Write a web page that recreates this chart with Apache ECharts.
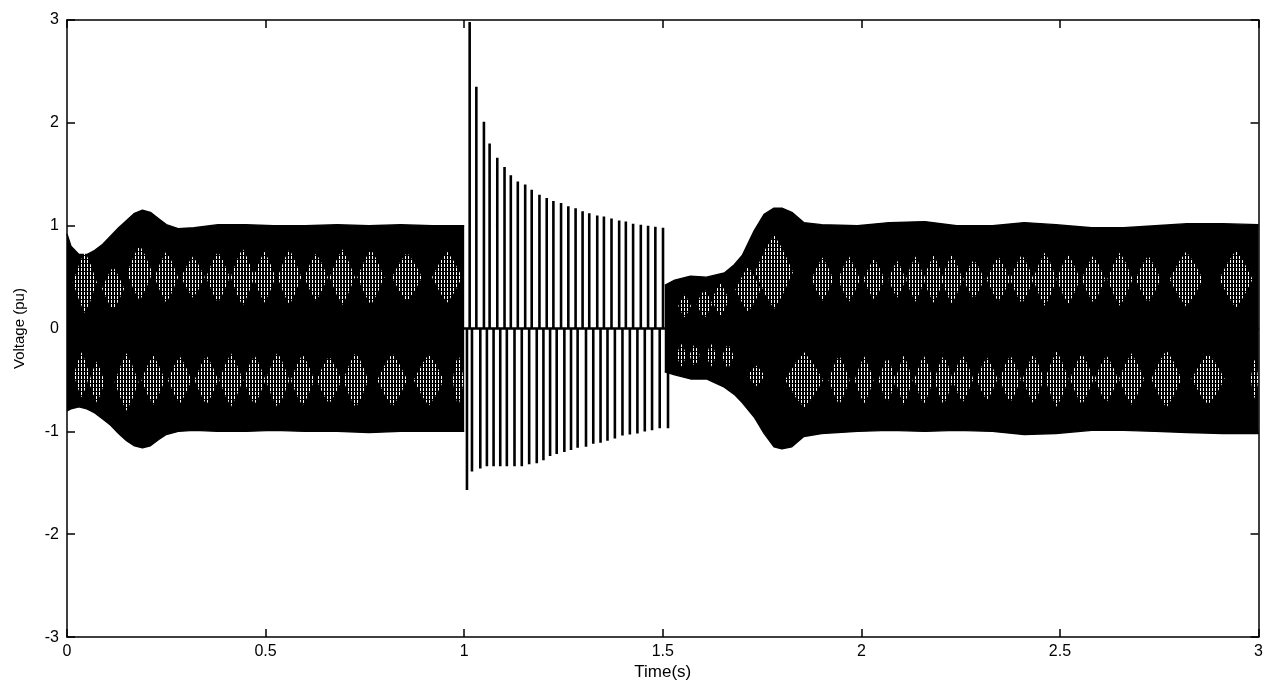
<!DOCTYPE html>
<html>
<head>
<meta charset="utf-8">
<title>Voltage (pu)</title>
<script src="https://cdn.jsdelivr.net/npm/echarts/dist/echarts.min.js"></script>
<style>
  html, body { margin: 0; padding: 0; background: #fff; }
  #chart { width: 1266px; height: 686px; }
</style>
</head>
<body>
<div id="chart"></div>
<script>
// ---- Axis tick labels ----
const xTickLabels = ['0', '0.5', '1', '1.5', '2', '2.5', '3'];
const yTickLabels = ['-3', '-2', '-1', '0', '1', '2', '3'];

// ---- Envelope of the oscillation before the fault (0 - 1 s) ----
const preTime  = [0, 0.01, 0.03, 0.05, 0.07, 0.09, 0.11, 0.13, 0.15, 0.17, 0.19, 0.21, 0.23, 0.25, 0.28, 0.32, 0.38, 0.45, 0.52, 0.60, 0.68, 0.76, 0.84, 0.92, 1.0];
const preUpper = [0.92, 0.80, 0.72, 0.72, 0.76, 0.82, 0.90, 0.98, 1.05, 1.12, 1.15, 1.13, 1.07, 1.01, 0.97, 0.98, 1.01, 1.01, 1.00, 1.00, 1.01, 1.00, 1.01, 1.00, 1.00];
const preLower = [-0.80, -0.78, -0.76, -0.78, -0.82, -0.88, -0.94, -1.02, -1.09, -1.14, -1.16, -1.14, -1.08, -1.03, -1.00, -0.99, -1.00, -1.00, -0.99, -1.00, -1.00, -1.01, -1.00, -1.00, -1.00];

// ---- Envelope after clearing (1.5 - 3 s) ----
const postTime  = [1.505, 1.53, 1.57, 1.61, 1.655, 1.68, 1.70, 1.73, 1.755, 1.78, 1.80, 1.825, 1.855, 1.90, 1.99, 2.07, 2.16, 2.24, 2.33, 2.41, 2.49, 2.58, 2.66, 2.74, 2.82, 2.91, 3.0];
const postUpper = [0.42, 0.47, 0.51, 0.50, 0.54, 0.62, 0.71, 0.95, 1.11, 1.17, 1.17, 1.13, 1.03, 1.01, 1.00, 1.03, 1.04, 1.00, 1.00, 1.03, 1.01, 0.98, 0.98, 1.00, 1.02, 1.02, 1.01];
const postLower = [-0.42, -0.45, -0.49, -0.49, -0.57, -0.64, -0.72, -0.86, -1.02, -1.15, -1.17, -1.15, -1.05, -1.02, -1.00, -0.99, -1.00, -0.99, -1.00, -1.03, -1.02, -0.99, -0.99, -1.00, -1.01, -1.02, -1.02];

// ---- Fault period (1 - 1.5 s): positive and negative spikes ----
const faultPeakTime = [1.0138, 1.0306, 1.0497, 1.0640, 1.0833, 1.1016, 1.1174, 1.1350, 1.1536, 1.1700, 1.1895, 1.2078, 1.2246, 1.2439, 1.2622, 1.2805, 1.2981, 1.3149, 1.3350, 1.3518, 1.3709, 1.3902, 1.4070, 1.4253, 1.4447, 1.4630, 1.4813, 1.5006];
const faultPeak     = [2.98, 2.35, 2.01, 1.80, 1.66, 1.57, 1.49, 1.43, 1.40, 1.35, 1.30, 1.27, 1.24, 1.22, 1.19, 1.17, 1.14, 1.12, 1.10, 1.09, 1.07, 1.05, 1.04, 1.02, 1.01, 1.00, 0.99, 0.98];
const faultTroughTime = [1.0070, 1.0196, 1.0406, 1.0572, 1.0740, 1.0908, 1.1074, 1.1267, 1.1450, 1.1636, 1.1827, 1.1995, 1.2163, 1.2329, 1.2522, 1.2690, 1.2856, 1.3067, 1.3250, 1.3433, 1.3608, 1.3794, 1.3985, 1.4171, 1.4361, 1.4547, 1.4730, 1.4923, 1.5132];
const faultTrough     = [-1.57, -1.39, -1.36, -1.34, -1.34, -1.34, -1.34, -1.34, -1.34, -1.32, -1.31, -1.28, -1.24, -1.22, -1.20, -1.18, -1.16, -1.15, -1.12, -1.11, -1.09, -1.07, -1.04, -1.03, -1.02, -1.00, -0.99, -0.97, -0.97];

// ---- Beat groups inside the band: [time, centre, half height, half width] ----
const beatUpper = [
  [0.045, 0.45, 0.30, 0.030], [0.116, 0.39, 0.21, 0.028], [0.183, 0.54, 0.27, 0.032],
  [0.250, 0.50, 0.25, 0.030], [0.317, 0.50, 0.20, 0.030], [0.380, 0.50, 0.25, 0.030],
  [0.442, 0.50, 0.28, 0.030], [0.497, 0.50, 0.25, 0.028], [0.560, 0.50, 0.27, 0.030],
  [0.627, 0.50, 0.23, 0.030], [0.693, 0.50, 0.27, 0.032], [0.765, 0.50, 0.27, 0.034],
  [0.856, 0.50, 0.24, 0.038], [0.957, 0.50, 0.25, 0.038],
  [1.555, 0.22, 0.11, 0.016], [1.605, 0.24, 0.14, 0.020], [1.645, 0.28, 0.16, 0.022],
  [1.715, 0.38, 0.22, 0.032], [1.780, 0.55, 0.36, 0.048],
  [1.902, 0.48, 0.21, 0.028], [1.969, 0.48, 0.22, 0.028], [2.032, 0.48, 0.20, 0.027],
  [2.090, 0.48, 0.18, 0.022], [2.136, 0.48, 0.22, 0.024], [2.182, 0.48, 0.23, 0.026],
  [2.228, 0.48, 0.24, 0.027], [2.283, 0.48, 0.19, 0.027], [2.345, 0.48, 0.22, 0.030],
  [2.404, 0.48, 0.24, 0.030], [2.462, 0.48, 0.26, 0.030], [2.521, 0.48, 0.24, 0.030],
  [2.584, 0.48, 0.23, 0.030], [2.651, 0.48, 0.26, 0.032], [2.722, 0.48, 0.23, 0.032],
  [2.818, 0.48, 0.27, 0.042], [2.943, 0.48, 0.28, 0.042]
];
const beatLower = [
  [0.037, -0.45, 0.22, 0.020], [0.075, -0.52, 0.20, 0.020], [0.150, -0.52, 0.28, 0.030],
  [0.217, -0.50, 0.24, 0.030], [0.284, -0.50, 0.23, 0.030], [0.351, -0.50, 0.24, 0.030],
  [0.413, -0.50, 0.26, 0.030], [0.472, -0.50, 0.24, 0.028], [0.530, -0.50, 0.27, 0.030],
  [0.593, -0.50, 0.25, 0.030], [0.660, -0.50, 0.23, 0.032], [0.727, -0.50, 0.27, 0.032],
  [0.819, -0.50, 0.26, 0.038], [0.911, -0.50, 0.25, 0.038], [0.985, -0.50, 0.26, 0.014],
  [1.547, -0.26, 0.11, 0.013], [1.580, -0.26, 0.11, 0.013], [1.622, -0.26, 0.11, 0.013],
  [1.664, -0.27, 0.12, 0.015], [1.735, -0.46, 0.10, 0.022], [1.856, -0.50, 0.27, 0.048],
  [1.944, -0.50, 0.24, 0.027], [2.007, -0.50, 0.23, 0.024], [2.065, -0.50, 0.22, 0.022],
  [2.107, -0.50, 0.24, 0.022], [2.157, -0.50, 0.24, 0.024], [2.207, -0.50, 0.24, 0.024],
  [2.255, -0.49, 0.23, 0.027], [2.316, -0.49, 0.21, 0.027], [2.375, -0.49, 0.23, 0.027],
  [2.433, -0.49, 0.24, 0.027], [2.492, -0.49, 0.27, 0.030], [2.555, -0.49, 0.25, 0.030],
  [2.617, -0.49, 0.23, 0.030], [2.680, -0.49, 0.25, 0.032], [2.768, -0.49, 0.28, 0.038],
  [2.873, -0.49, 0.25, 0.042], [2.990, -0.49, 0.19, 0.010]
];

// ---- Build series data ----
const GAP = '-';
const upperEnv = preTime.map((t, i) => [t, preUpper[i]])
  .concat([[1.25, GAP]])
  .concat(postTime.map((t, i) => [t, postUpper[i]]));
const lowerEnv = preTime.map((t, i) => [t, preLower[i]])
  .concat([[1.25, GAP]])
  .concat(postTime.map((t, i) => [t, postLower[i]]));

// the trace sits on the zero line; each spike rises from it and falls back to it
const spikes = faultPeakTime.map((t, i) => [t, faultPeak[i]])
  .concat(faultTroughTime.map((t, i) => [t, faultTrough[i]]))
  .sort((a, b) => a[0] - b[0]);
const traceData = [[preTime[0], 0]];
spikes.forEach(([t, v]) => { traceData.push([t, 0], [t, v], [t, 0]); });
traceData.push([postTime[postTime.length - 1], 0]);

// vertical white hatch used to fill the beat groups
const hatch = document.createElement('canvas');
hatch.width = 3; hatch.height = 4;
(function () {
  const g = hatch.getContext('2d');
  g.fillStyle = '#ffffff';
  g.fillRect(0, 0, 1, 3);
})();

function renderBeat(params, api) {
  const t = api.value(0), c = api.value(1), h = api.value(2), w = api.value(3);
  const pts = [
    [t - w, c], [t - w * 0.45, c + h * 0.62], [t, c + h], [t + w * 0.45, c + h * 0.62],
    [t + w, c], [t + w * 0.45, c - h * 0.62], [t, c - h], [t - w * 0.45, c - h * 0.62]
  ].map(p => api.coord(p));
  return {
    type: 'polygon',
    shape: { points: pts },
    style: { fill: { image: hatch, repeat: 'repeat' }, stroke: null }
  };
}

const FONT = 'Liberation Sans, Arial, Helvetica, sans-serif';
const axisLineStyle = { color: '#000', width: 1.5 };
const tickStyle = { inside: true, length: 8, lineStyle: { color: '#000', width: 1.5 } };

const chart = echarts.init(document.getElementById('chart'), null, { renderer: 'canvas' });
chart.setOption({
  animation: false,
  backgroundColor: '#fff',
  grid: { left: 67, right: 4, top: 20, bottom: 45, containLabel: false },
  xAxis: [
    {
      type: 'value', min: 0, max: 3, interval: 0.5, position: 'bottom',
      axisLine: { show: true, onZero: false, lineStyle: axisLineStyle },
      axisTick: tickStyle,
      splitLine: { show: false },
      axisLabel: {
        margin: 6, color: '#000', fontSize: 16, fontFamily: FONT,
        formatter: v => xTickLabels[Math.round(v / 0.5)]
      },
      name: 'Time(s)', nameLocation: 'middle', nameGap: 26,
      nameTextStyle: { color: '#000', fontSize: 17, fontFamily: FONT }
    },
    {
      type: 'value', min: 0, max: 3, interval: 0.5, position: 'top',
      axisLine: { show: true, onZero: false, lineStyle: axisLineStyle },
      axisTick: tickStyle, axisLabel: { show: false }, splitLine: { show: false }
    }
  ],
  yAxis: [
    {
      type: 'value', min: -3, max: 3, interval: 1, position: 'left',
      axisLine: { show: true, onZero: false, lineStyle: axisLineStyle },
      axisTick: tickStyle,
      splitLine: { show: false },
      axisLabel: {
        margin: 8, color: '#000', fontSize: 16, fontFamily: FONT,
        formatter: v => yTickLabels[Math.round(v + 3)]
      },
      name: 'Voltage (pu)', nameLocation: 'middle', nameGap: 40,
      nameTextStyle: { color: '#000', fontSize: 15, fontFamily: FONT }
    },
    {
      type: 'value', min: -3, max: 3, interval: 1, position: 'right',
      axisLine: { show: true, onZero: false, lineStyle: axisLineStyle },
      axisTick: tickStyle, axisLabel: { show: false }, splitLine: { show: false }
    }
  ],
  series: [
    {
      name: 'upper', type: 'line', data: upperEnv, showSymbol: false, connectNulls: false,
      lineStyle: { color: '#000', width: 1.4 }, areaStyle: { color: '#000', opacity: 1 },
      z: 1, silent: true
    },
    {
      name: 'lower', type: 'line', data: lowerEnv, showSymbol: false, connectNulls: false,
      lineStyle: { color: '#000', width: 1.4 }, areaStyle: { color: '#000', opacity: 1 },
      z: 1, silent: true
    },
    {
      name: 'trace', type: 'line', data: traceData, showSymbol: false,
      lineStyle: { color: '#000', width: 2.6, join: 'bevel', cap: 'butt' },
      z: 2, silent: true
    },
    {
      name: 'beatsUpper', type: 'custom', data: beatUpper, renderItem: renderBeat, z: 3, silent: true
    },
    {
      name: 'beatsLower', type: 'custom', data: beatLower, renderItem: renderBeat, z: 3, silent: true
    }
  ]
});
</script>
</body>
</html>
